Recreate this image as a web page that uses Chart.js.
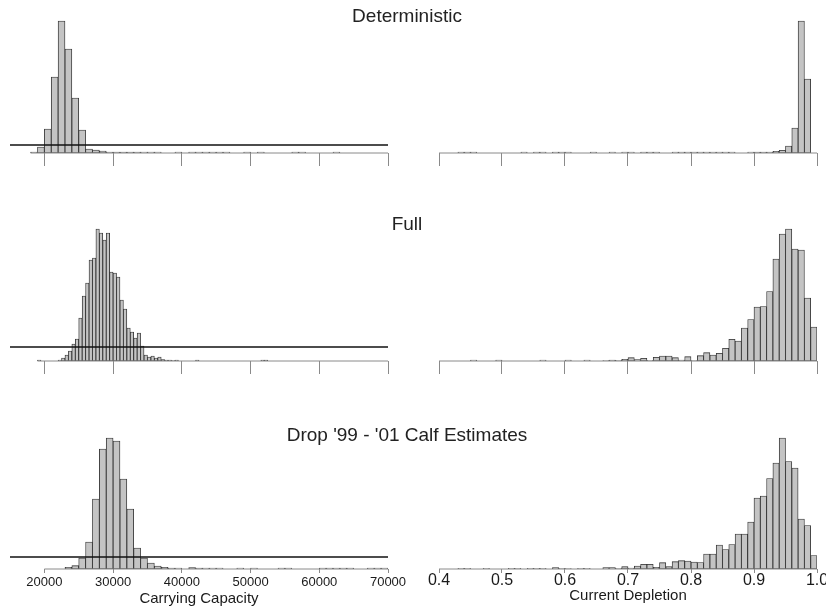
<!DOCTYPE html>
<html>
<head>
<meta charset="utf-8">
<script src="https://cdn.jsdelivr.net/npm/chart.js@4.4.1/dist/chart.umd.min.js"></script>
<style>
  html, body { margin: 0; padding: 0; background: #fff; width: 826px; height: 609px; overflow: hidden; }
  canvas { position: absolute; }
  .title {
    position: absolute; left: 0; width: 814px; text-align: center;
    font: 19px/19px "Liberation Sans", Arial, Helvetica, sans-serif; color: #222; z-index: 2;
  }
</style>
</head>
<body>
<div class="title" style="top:6px">Deterministic</div>
<div class="title" style="top:214px">Full</div>
<div class="title" style="top:425px">Drop '99 - '01 Calf Estimates</div>

<script>
// axis ticks
const kTicks = [20000, 30000, 40000, 50000, 60000, 70000];
const kTickLabels = ['20000', '30000', '40000', '50000', '60000', '70000'];
const dTicks = [0.4, 0.5, 0.6, 0.7, 0.8, 0.9, 1.0];
const dTickLabels = ['0.4', '0.5', '0.6', '0.7', '0.8', '0.9', '1.0'];

// carrying capacity histograms (bar heights, trailing empty bins dropped)
const detKStart = 18000, detKWidth = 1000;
const detK = [1, 6, 24, 76, 132, 104, 55, 23, 4, 3, 2, 1, 1, 1, 1, 1,
  0.8, 0.8, 0.8, 0, 0, 0.8, 0, 0.8, 0.8, 0.8, 0.8, 0.8, 0.8, 0, 0, 0.8, 0, 0.8,
  0, 0, 0, 0, 0.8, 0.8, 0, 0, 0, 0, 0.8];

const fullKStart = 19000, fullKWidth = 500;
const fullK = [1, 0, 0, 0, 0, 0,
  1, 3, 6, 10, 17, 22, 43, 65, 78, 101, 103, 132, 128, 121, 128, 89, 88, 84, 61, 52,
  33, 29, 23, 28, 15, 6, 4, 5, 3, 4, 1.5, 1, 1, 0.5,
  1, 0, 0, 0, 0, 0, 1, 0, 0, 0, 0, 0, 0, 0, 0, 0, 0, 0, 0, 0, 0, 0, 0, 0, 0, 1, 1];

const dropKStart = 20000, dropKWidth = 1000;
const dropK = [0, 0, 0, 1.7, 3.3, 11, 27, 70, 120, 131, 128, 90, 60, 21, 11, 6, 3, 1.7, 1, 0.8,
  0, 1.5, 1, 0.8, 0.8, 0.8, 0, 0, 0.8, 0, 0.8, 0, 0, 0, 0.8, 0.8, 0, 0, 0, 0,
  0.8, 0.8, 0.8, 0.8, 0.8, 0, 0, 0.8, 0.8, 0.8];

// current depletion histograms, bins of 0.01 from 0.4
const dStart = 0.4, dWidth = 0.01;
const detD = [0, 0, 0, 0.8, 0.8, 0.8, 0, 0, 0, 0,
  0, 0, 0, 0.8, 0, 0.8, 0.8, 0, 0.8, 0.8,
  0.8, 0, 0, 0, 0.8, 0, 0, 0.8, 0, 0.8,
  0.8, 0, 0.8, 0.8, 0.8, 0, 0, 0.8, 0.8, 0.8,
  0.8, 0.8, 0.8, 0.8, 0.8, 0.8, 0.8, 0, 0, 0.8,
  1, 1, 1, 1.7, 2.7, 7, 25, 132, 74, 0];
const fullD = [0, 0, 0, 0, 0, 0.8, 0, 0, 0, 0.8,
  0, 0, 0, 0, 0, 0, 0.8, 0, 0, 0,
  0.8, 0, 0, 0.8, 0, 0, 0.5, 1, 0.7, 1.7,
  3.3, 1.3, 2.7, 0.7, 3.7, 5, 5, 3.3, 1, 4.3,
  0.3, 5.3, 8.3, 6, 7.7, 12.7, 21.7, 20, 33, 41.5,
  54, 54.5, 69.5, 102, 127, 132, 112, 111, 63, 34];
const dropD = [0, 0, 0, 0.7, 0.7, 0, 0, 0.7, 0, 0,
  0, 0.7, 0.7, 0, 0.7, 0.7, 0.7, 0, 1.3, 0.7,
  0.3, 0, 0.7, 0.7, 0, 0, 1.3, 1.3, 0.7, 2.3,
  1, 3, 4.7, 4.7, 1.7, 6.3, 2.3, 7.3, 8.3, 8,
  7, 6.5, 15, 15, 24, 19.5, 24.5, 35, 35, 47,
  71, 73, 90.5, 106, 131, 107.5, 101, 50, 43.5, 13.5];

// level of the flat prior line drawn on the carrying capacity panels
const priorK = [8, 14, 12];

const BAR_FILL = '#c4c4c4';
const BAR_EDGE = '#2e2e2e';
const AXIS_GREY = '#8a8a8a';
const SANS = '"Liberation Sans", Arial, Helvetica, sans-serif';

const rows = [
  { top: 0, height: 170, padTop: 15, padBottom: 4, yMax: 138, tickLength: 13, axisHeight: 13, labels: false },
  { top: 200, height: 180, padTop: 20, padBottom: 6, yMax: 141, tickLength: 13, axisHeight: 13, labels: false },
  { top: 410, height: 199, padTop: 20, padBottom: 0, yMax: 139, tickLength: 4, axisHeight: 40, labels: true }
];
const cols = {
  k: { left: 0, width: 420, padLeft: 10, padRight: 32, min: 15000, max: 70000,
       ticks: kTicks, tickLabels: kTickLabels, title: 'Carrying Capacity',
       tickFont: { family: '"Liberation Sans Narrow", ' + SANS, size: 13 }, tickPadding: 2, titlePad: 1 },
  d: { left: 420, width: 430, padLeft: 19, padRight: 33, min: 0.4, max: 1.0,
       ticks: dTicks, tickLabels: dTickLabels, title: 'Current Depletion',
       tickFont: { family: SANS, size: 16, lineHeight: 1 }, tickPadding: 0, titlePad: 4 }
};

function histogram(counts, start, width, col, row, prior) {
  const canvas = document.createElement('canvas');
  canvas.width = col.width;
  canvas.height = row.height;
  canvas.style.left = col.left + 'px';
  canvas.style.top = row.top + 'px';
  document.body.appendChild(canvas);

  const bars = counts.map((c, i) => ({ x: start + (i + 0.5) * width, y: c }));
  const datasets = [
    { type: 'bar', data: bars, backgroundColor: BAR_FILL, borderColor: BAR_EDGE, borderWidth: 0.85,
      borderSkipped: false, barPercentage: 1, categoryPercentage: 1, order: 2 },
    // zero line under the bins, as the histogram draws it
    { type: 'line', data: [{ x: Math.min(start, col.ticks[0]), y: 0 }, { x: col.max, y: 0 }],
      borderColor: AXIS_GREY, borderWidth: 1, pointRadius: 0, clip: false, order: 1 }
  ];
  if (prior !== undefined) {
    datasets.push({ type: 'line', data: [{ x: col.min, y: prior }, { x: col.max, y: prior }],
      borderColor: '#111', borderWidth: 1.5, pointRadius: 0, clip: false, order: 0 });
  }

  return new Chart(canvas, {
    type: 'bar',
    data: { datasets },
    options: {
      responsive: false,
      animation: false,
      devicePixelRatio: 1,
      layout: { padding: { top: row.padTop, bottom: row.padBottom, left: col.padLeft, right: col.padRight } },
      plugins: { legend: { display: false }, tooltip: { enabled: false } },
      scales: {
        x: {
          type: 'linear',
          min: col.min,
          max: col.max,
          offset: false,
          border: { display: false },
          grid: { offset: false, drawOnChartArea: false, drawTicks: true, tickLength: row.tickLength, color: AXIS_GREY },
          afterBuildTicks: scale => { scale.ticks = col.ticks.map(v => ({ value: v })); },
          afterFit: scale => { scale.height = row.axisHeight; },
          ticks: {
            display: row.labels,
            autoSkip: false,
            maxRotation: 0,
            color: '#1a1a1a',
            padding: col.tickPadding,
            font: col.tickFont,
            callback: (v, i) => col.tickLabels[i]
          },
          title: {
            display: row.labels,
            text: col.title,
            color: '#1a1a1a',
            font: { family: SANS, size: 15 },
            padding: { top: 0, bottom: col.titlePad }
          }
        },
        y: { display: false, min: 0, max: row.yMax }
      }
    }
  });
}

histogram(detK, detKStart, detKWidth, cols.k, rows[0], priorK[0]);
histogram(fullK, fullKStart, fullKWidth, cols.k, rows[1], priorK[1]);
histogram(dropK, dropKStart, dropKWidth, cols.k, rows[2], priorK[2]);
histogram(detD, dStart, dWidth, cols.d, rows[0]);
histogram(fullD, dStart, dWidth, cols.d, rows[1]);
histogram(dropD, dStart, dWidth, cols.d, rows[2]);
</script>
</body>
</html>
